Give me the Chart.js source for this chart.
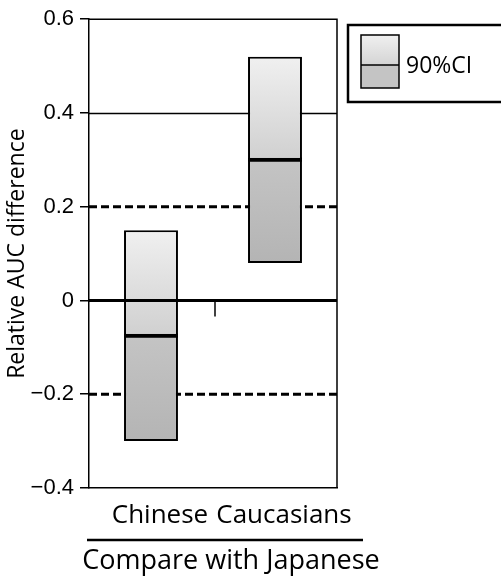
<!DOCTYPE html>
<html><head><meta charset="utf-8">
<script src="https://cdn.jsdelivr.net/npm/chart.js@4"></script>
<style>html,body{margin:0;padding:0;background:#fff}#wrap{width:501px;height:584px}</style>
</head><body><div id="wrap"><canvas id="c" width="501" height="584"></canvas></div>
<script>
const categories = ["Chinese", "Caucasians"];
const ciLower = [-0.30, 0.08];
const pointEstimate = [-0.075, 0.30];
const ciUpper = [0.15, 0.52];
const dashedRefs = [0.2, -0.2];
const thinRef = 0.4;
const zeroRef = 0;
const yMin = -0.4, yMax = 0.6, yStep = 0.2;
const yTitle = "Relative AUC difference";
const groupTitle = "Compare with Japanese";
const legendLabel = "90%CI";

const TXT = "'Open Sans', sans-serif";
const NUM = "'Liberation Sans', Arial, sans-serif";

function grad(ctx, top, bottom, c1, c2) {
  const chart = ctx.chart;
  if (!chart.chartArea) return c2;
  const y = chart.scales.y;
  const i = ctx.dataIndex;
  const yt = y.getPixelForValue(top[i]), yb = y.getPixelForValue(bottom[i]);
  const g = chart.ctx.createLinearGradient(0, yt, 0, yb);
  g.addColorStop(0, c1); g.addColorStop(1, c2);
  return g;
}

const refLines = {
  id: 'refLines',
  beforeDatasetsDraw(chart) {
    const {ctx, chartArea: a, scales: {y}} = chart;
    ctx.save();
    ctx.strokeStyle = '#000';
    ctx.lineWidth = 1.5;
    ctx.beginPath();
    const y4 = Math.round(y.getPixelForValue(thinRef)) + 0.5;
    ctx.moveTo(a.left, y4); ctx.lineTo(a.right, y4); ctx.stroke();
    ctx.lineWidth = 3;
    ctx.setLineDash([8, 4]);
    dashedRefs.forEach(v => {
      const yy = y.getPixelForValue(v);
      ctx.beginPath(); ctx.moveTo(a.left, yy); ctx.lineTo(a.right, yy); ctx.stroke();
    });
    ctx.restore();
  },
  afterDatasetsDraw(chart) {
    const {ctx, chartArea: a, scales: {x, y}} = chart;
    ctx.save();
    ctx.strokeStyle = '#000';
    const meta = chart.getDatasetMeta(0);
    ctx.lineWidth = 3.5;
    meta.data.forEach((bar, i) => {
      const ym = y.getPixelForValue(pointEstimate[i]);
      ctx.beginPath();
      ctx.moveTo(bar.x - bar.width / 2, ym); ctx.lineTo(bar.x + bar.width / 2, ym);
      ctx.stroke();
    });
    const y0 = y.getPixelForValue(zeroRef);
    ctx.lineWidth = 3;
    ctx.beginPath(); ctx.moveTo(a.left, y0); ctx.lineTo(a.right, y0); ctx.stroke();
    const xb = x.getPixelForValue(0.5) + 2;
    ctx.lineWidth = 1.5;
    ctx.beginPath(); ctx.moveTo(xb, y0); ctx.lineTo(xb, y0 + 16); ctx.stroke();
    ctx.beginPath();
    ctx.moveTo(a.left, a.top); ctx.lineTo(a.right, a.top); ctx.lineTo(a.right, a.bottom);
    ctx.stroke();
    ctx.restore();
  },
  afterDraw(chart) {
    const {ctx} = chart;
    ctx.save();
    ctx.strokeStyle = '#000';
    ctx.lineWidth = 2.5;
    ctx.strokeRect(348, 25, 160, 77);
    let g = ctx.createLinearGradient(0, 35, 0, 65);
    g.addColorStop(0, '#f0f0f0'); g.addColorStop(1, '#d4d4d4');
    ctx.fillStyle = g; ctx.fillRect(361, 35, 38, 30);
    ctx.fillStyle = '#c4c4c4'; ctx.fillRect(361, 65, 38, 23);
    ctx.lineWidth = 1.5;
    ctx.strokeRect(361, 35, 38, 53);
    ctx.beginPath(); ctx.moveTo(361, 65); ctx.lineTo(399, 65); ctx.stroke();
    ctx.fillStyle = '#000';
    ctx.font = "23px " + TXT;
    ctx.textBaseline = 'middle'; ctx.textAlign = 'left';
    ctx.fillText(legendLabel, 406, 66);
    ctx.lineWidth = 2.5;
    ctx.beginPath(); ctx.moveTo(87, 540); ctx.lineTo(363, 540); ctx.stroke();
    ctx.font = "27px " + TXT;
    ctx.textAlign = 'center';
    ctx.fillText(groupTitle, 231, 561);
    ctx.restore();
  }
};

new Chart(document.getElementById('c'), {
  type: 'bar',
  data: {
    labels: categories,
    datasets: [
      {
        label: 'lower',
        data: categories.map((c, i) => [ciLower[i], pointEstimate[i]]),
        backgroundColor: ctx => grad(ctx, pointEstimate, ciLower, '#c4c4c4', '#b4b4b4'),
        borderColor: '#000', borderWidth: 2, borderSkipped: false,
        grouped: false, barPercentage: 0.435, categoryPercentage: 1
      },
      {
        label: 'upper',
        data: categories.map((c, i) => [pointEstimate[i], ciUpper[i]]),
        backgroundColor: ctx => grad(ctx, ciUpper, pointEstimate, '#f0f0f0', '#d0d0d0'),
        borderColor: '#000', borderWidth: 2, borderSkipped: false,
        grouped: false, barPercentage: 0.435, categoryPercentage: 1
      }
    ]
  },
  options: {
    responsive: false, animation: false, devicePixelRatio: 1,
    layout: {padding: {left: 0, right: 164, top: 18, bottom: 0}},
    plugins: {legend: {display: false}, tooltip: {enabled: false}},
    scales: {
      x: {
        type: 'category', offset: true,
        grid: {display: true, drawOnChartArea: false, drawTicks: false, color: '#000'},
        border: {display: true, color: '#000', width: 1.5},
        ticks: {font: {family: TXT, size: 26}, color: '#000', padding: 12, labelOffset: 9,
                maxRotation: 0, autoSkip: false},
        afterFit(s) { s.height = 96; }
      },
      y: {
        min: yMin, max: yMax,
        ticks: {stepSize: yStep, font: {family: NUM, size: 22}, color: '#000', padding: 6,
                callback: v => String(Math.round(v * 10) / 10).replace('-', '\u2212')},
        grid: {display: true, drawOnChartArea: false, drawTicks: true, tickLength: 9, color: '#000', lineWidth: 1.5},
        border: {display: true, color: '#000', width: 1.5},
        title: {display: true, text: yTitle, font: {family: TXT, size: 23}, color: '#000', padding: {top: 4, bottom: 0}},
        afterFit(s) { s.width = 89; }
      }
    }
  },
  plugins: [refLines]
});
</script>
</body></html>
